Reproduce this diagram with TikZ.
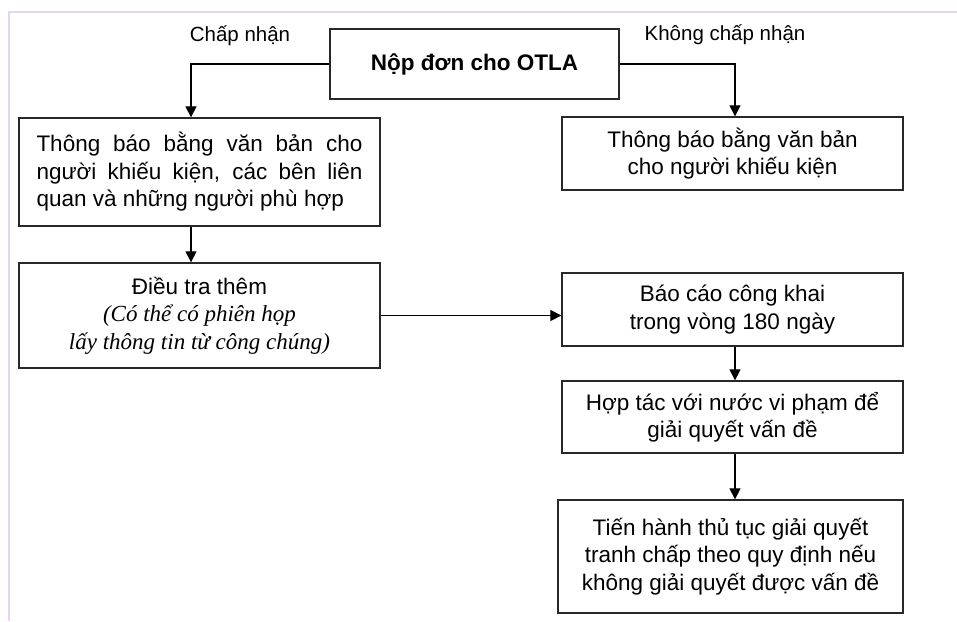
\documentclass[tikz,border=0pt]{standalone}
\usepackage{fontspec}
\setmainfont{Liberation Sans}
\newfontfamily\seriffam{Liberation Serif}
\usetikzlibrary{arrows.meta}
\definecolor{lav}{RGB}{228,214,236}
\definecolor{edge}{RGB}{40,40,40}
\tikzset{
  box/.style={draw=edge, line width=1.3pt, inner sep=0pt, align=center,
    font=\fontsize{22.5}{27.5}\selectfont},
  lbl/.style={inner sep=0pt, font=\fontsize{20.5}{24}\selectfont},
  arr/.style={draw=black, line width=1.2pt, -{Triangle[width=11pt,length=11pt]}}
}
\begin{document}
\begin{tikzpicture}[x=1pt,y=-1pt]
\useasboundingbox (0,0) rectangle (957,621);
\fill[white] (0,0) rectangle (957,621);
\draw[lav, line width=2.5pt] (9,621) -- (9,12) -- (957,12);

\node[box, minimum width=289pt, minimum height=70pt, font=\fontsize{22.5}{27}\selectfont\bfseries] (top) at (474.5,64) {Nộp đơn cho OTLA};

\node[box, minimum width=361pt, minimum height=108pt, text width=326pt, align=justify] (l1) at (199.5,172)
  {Thông báo bằng văn bản cho\linebreak người khiếu kiện, các bên liên\linebreak quan và những người phù hợp};

\node[box, minimum width=341pt, minimum height=73pt] (r1) at (732.5,153.5)
  {Thông báo bằng văn bản\\cho người khiếu kiện};

\node[box, minimum width=361pt, minimum height=105pt] (l2) at (199.5,315.5)
  {Điều tra thêm\\{\seriffam\itshape\fontsize{23}{26}\selectfont (Có thể có phiên họp}\\{\seriffam\itshape\fontsize{23}{26}\selectfont lấy thông tin từ công chúng)}};

\node[box, minimum width=341pt, minimum height=73pt] (r2) at (732.5,309.5)
  {Báo cáo công khai\\trong vòng 180 ngày};

\node[box, minimum width=341pt, minimum height=72pt] (r3) at (732.5,417)
  {Hợp tác với nước vi phạm để\\giải quyết vấn đề};

\node[box, minimum width=345pt, minimum height=113pt] (r4) at (730.5,556.5)
  {Tiến hành thủ tục giải quyết\\tranh chấp theo quy định nếu\\không giải quyết được vấn đề};

\node[lbl] (acc) at (240,36) {Chấp nhận};
\node[lbl] (rej) at (725,35) {Không chấp nhận};

\draw[arr] (top.west) -| ([xshift=-8.5pt]l1.north);
\draw[arr] (top.east) -| ([xshift=2.5pt]r1.north);
\draw[arr] ([xshift=-8.5pt]l1.south) -- ([xshift=-8.5pt]l2.north);
\draw[arr] (l2.east) -- (l2.east -| r2.west);
\draw[arr] ([xshift=2.5pt]r2.south) -- ([xshift=2.5pt]r3.north);
\draw[arr] ([xshift=2.5pt]r3.south) -- ([xshift=2.5pt]r3.south |- r4.north);
\end{tikzpicture}
\end{document}
